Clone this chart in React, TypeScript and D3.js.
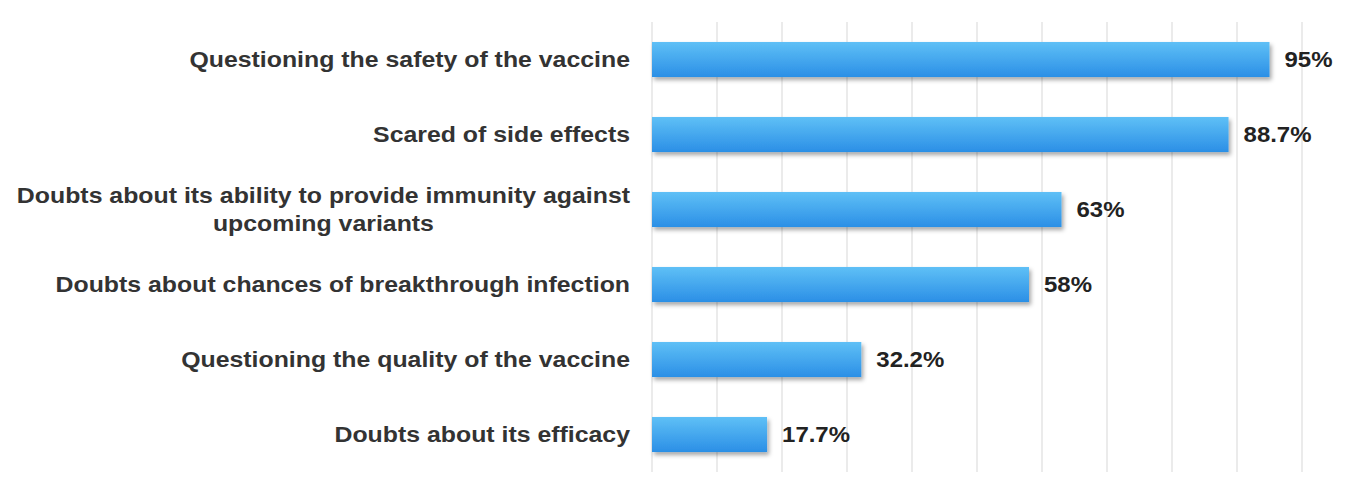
import React, { useLayoutEffect, useRef, useState } from "react";
import * as d3 from "d3";

const categories: string[][] = [
  ["Questioning the safety of the vaccine"],
  ["Scared of side effects"],
  ["Doubts about its ability to provide immunity against", "upcoming variants"],
  ["Doubts about chances of breakthrough infection"],
  ["Questioning the quality of the vaccine"],
  ["Doubts about its efficacy"],
];
const values: number[] = [95, 88.7, 63, 58, 32.2, 17.7];
const valueLabels: string[] = ["95%", "88.7%", "63%", "58%", "32.2%", "17.7%"];
const gridTicks: number[] = [0, 10, 20, 30, 40, 50, 60, 70, 80, 90, 100];

const W = 1368;
const H = 482;
const X0 = 652;
const X1 = 1302;
const Y0 = 22;
const Y1 = 472;
const LABEL_X = 630;
const FONT = "'Liberation Sans', Arial, sans-serif";
const LABEL_SX = 1.13;
const VALUE_SX = 1.09;

export default function App() {
  const x = d3.scaleLinear().domain([0, 100]).range([X0, X1]);
  const keys = categories.map((_, i) => String(i));
  const y = d3
    .scaleBand<string>()
    .domain(keys)
    .range([Y0, Y1])
    .paddingInner(0.533)
    .paddingOuter(0.2665);
  const refs = useRef<(SVGTextElement | null)[]>([]);
  const [widths, setWidths] = useState<number[]>([]);
  useLayoutEffect(() => {
    setWidths(refs.current.map((el) => (el ? el.getComputedTextLength() : 0)));
  }, []);

  return (
    <svg width={W} height={H} style={{ position: "absolute", left: 0, top: 0, background: "#fff" }}>
      <defs>
        <linearGradient id="barGrad" x1="0" y1="0" x2="0" y2="1">
          <stop offset="0%" stopColor="#5fc0f6" />
          <stop offset="100%" stopColor="#2b8fe6" />
        </linearGradient>
        <filter id="shadow" x="-5%" y="-30%" width="115%" height="180%">
          <feDropShadow dx="2" dy="3" stdDeviation="2" floodColor="#000" floodOpacity="0.35" />
        </filter>
      </defs>
      {gridTicks.map((t) => (
        <line key={t} x1={x(t)} x2={x(t)} y1={Y0} y2={Y1} stroke="#ebebeb" strokeWidth={2} />
      ))}
      {values.map((v, i) => {
        const yy = y(String(i))!;
        const bw = y.bandwidth();
        return (
          <g key={i}>
            <rect x={x(0)} y={yy} width={x(v) - x(0)} height={bw} fill="url(#barGrad)" filter="url(#shadow)" />
            <g transform={`translate(${x(v) + 15},${yy + bw / 2}) scale(${VALUE_SX},1)`}>
              <text dy="0.36em" fontFamily={FONT} fontWeight="bold" fontSize={22} fill="#222">
                {valueLabels[i]}
              </text>
            </g>
          </g>
        );
      })}
      {categories.map((lines, i) => {
        const cy = y(String(i))! + y.bandwidth() / 2;
        const lh = 28;
        const start = cy - ((lines.length - 1) * lh) / 2;
        const w0 = (widths[i] || 0) * LABEL_SX;
        return (
          <g key={i}>
            {lines.map((ln, j) => {
              const ax = j === 0 ? LABEL_X : LABEL_X - w0 / 2;
              return (
                <g key={j} transform={`translate(${ax},${start + j * lh}) scale(${LABEL_SX},1)`}>
                  <text
                    ref={j === 0 ? (el) => { refs.current[i] = el; } : undefined}
                    dy="0.36em"
                    textAnchor={j === 0 ? "end" : "middle"}
                    fontFamily={FONT}
                    fontWeight="bold"
                    fontSize={22}
                    fill="#333"
                  >
                    {ln}
                  </text>
                </g>
              );
            })}
          </g>
        );
      })}
    </svg>
  );
}
